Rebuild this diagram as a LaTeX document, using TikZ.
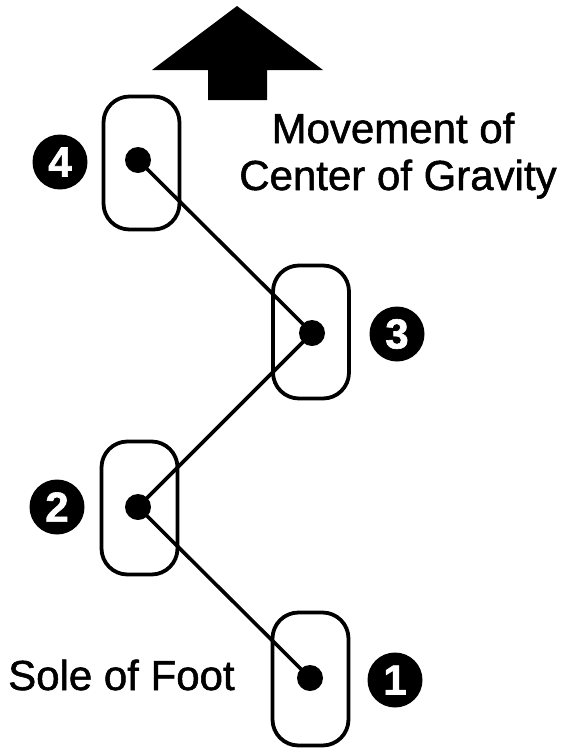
\documentclass[tikz,border=0pt]{standalone}
\usepackage{fontspec}
\setmainfont{Liberation Sans}
\newfontfamily\lblfont[FakeBold=1.3]{Liberation Sans}
\newfontfamily\numfont[FakeBold=1.5]{Liberation Sans Bold}
\begin{document}
\begin{tikzpicture}[x=1pt,y=-1pt,
  foot/.style={draw,line width=3.8pt,rounded corners=26pt,minimum width=76pt,minimum height=133pt,inner sep=0pt},
  cog/.style={circle,fill=black,minimum size=26pt,inner sep=0pt},
  numb/.style={circle,fill=black,minimum size=55pt,inner sep=0pt,text=white,font=\fontsize{42}{42}\numfont},
  lbl/.style={inner sep=0pt,font=\fontsize{42}{46}\lblfont},
  path/.style={line width=3.6pt}]
\useasboundingbox (0,0) rectangle (563,748);
\fill[white] (0,0) rectangle (563,748);
% arrow
\fill[black] (237,6) -- (323,70) -- (267,70) -- (267,100) -- (208,100) -- (208,70) -- (152,70) -- cycle;
% feet
\node[foot] (f4) at (141.5,163) {};
\node[foot] (f3) at (311,332) {};
\node[foot] (f2) at (139.5,508) {};
\node[foot] (f1) at (310.5,679) {};
% centers of gravity
\node[cog] (c4) at (138,160) {};
\node[cog] (c3) at (312,333) {};
\node[cog] (c2) at (138,507) {};
\node[cog] (c1) at (310,678) {};
\draw[path] (c1.center) -- (c2.center) -- (c3.center) -- (c4.center);
% numbers
\node[numb] (n4) at (60,162) {4};
\node[numb] (n3) at (397,334) {3};
\node[numb] (n2) at (57,507) {2};
\node[numb] (n1) at (395,680) {1};
% labels
\node[lbl,anchor=base] (t1) at (393,143) {Movement of};
\node[lbl,anchor=base] (t2) at (398,190) {Center of Gravity};
\node[lbl,anchor=base west] (t3) at (8,690) {Sole of Foot};
\end{tikzpicture}
\end{document}
